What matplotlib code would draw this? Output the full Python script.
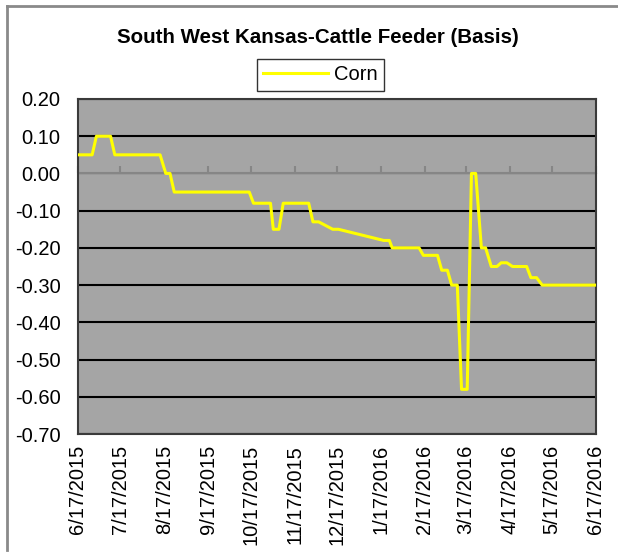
import matplotlib
matplotlib.use('Agg')
import matplotlib.pyplot as plt
from matplotlib.lines import Line2D
import pandas as pd

plt.rcParams['font.family'] = ['Liberation Sans', 'DejaVu Sans']
plt.rcParams['axes.unicode_minus'] = False

# breakpoints
dates = ['2015-06-17', '2015-06-27', '2015-06-30', '2015-07-10', '2015-07-13',
         '2015-08-14', '2015-08-18', '2015-08-21', '2015-08-24', '2015-10-16',
         '2015-10-19', '2015-10-31', '2015-11-02', '2015-11-06', '2015-11-09',
         '2015-11-27', '2015-11-30', '2015-12-04', '2015-12-14', '2015-12-18',
         '2016-01-19', '2016-01-23', '2016-01-25', '2016-02-13', '2016-02-16',
         '2016-02-26', '2016-02-29', '2016-03-04', '2016-03-07', '2016-03-11',
         '2016-03-14', '2016-03-18', '2016-03-21', '2016-03-24', '2016-03-28',
         '2016-03-31', '2016-04-04', '2016-04-08', '2016-04-11', '2016-04-15',
         '2016-04-19', '2016-04-29', '2016-05-02', '2016-05-06', '2016-05-10',
         '2016-06-17']
corn = [0.05, 0.05, 0.10, 0.10, 0.05, 0.05, 0.00, 0.00, -0.05, -0.05,
        -0.08, -0.08, -0.15, -0.15, -0.08, -0.08, -0.13, -0.13, -0.15, -0.15,
        -0.18, -0.18, -0.20, -0.20, -0.22, -0.22, -0.26, -0.26, -0.30, -0.30,
        -0.58, -0.58, 0.00, 0.00, -0.20, -0.20, -0.25, -0.25, -0.24, -0.24,
        -0.25, -0.25, -0.28, -0.28, -0.30, -0.30]
tick_labels = ['6/17/2015', '7/17/2015', '8/17/2015', '9/17/2015', '10/17/2015',
               '11/17/2015', '12/17/2015', '1/17/2016', '2/17/2016', '3/17/2016',
               '4/17/2016', '5/17/2016', '6/17/2016']
y_ticks = [0.20, 0.10, 0.00, -0.10, -0.20, -0.30, -0.40, -0.50, -0.60, -0.70]

x = pd.to_datetime(dates)
tick_dates = pd.to_datetime(tick_labels, format='%m/%d/%Y')

fig = plt.figure(figsize=(6.18, 5.55), dpi=100)
ax = fig.add_axes([78/618, 1-434/555, 518/618, 335/555])
ax.set_facecolor('#a5a5a5')

for v in y_ticks:
    if v != 0:
        ax.axhline(v, color='black', lw=1.5, zorder=1)
ax.axhline(0, color='#868686', lw=1.5, zorder=1)

ax.plot(x, corn, color='#ffff00', lw=2.2, zorder=3, label='Corn')

ax.set_xlim(tick_dates[0], tick_dates[-1])
ax.set_ylim(-0.70, 0.20)
ax.set_yticks(y_ticks)
ax.set_yticklabels(['%.2f' % v for v in y_ticks])
ax.set_xticks(tick_dates)
ax.set_xticklabels(tick_labels, rotation=90)
ax.tick_params(axis='both', length=0, labelsize=14.5)
ax.tick_params(axis='y', pad=12.5)
ax.tick_params(axis='x', pad=8)

for s in ax.spines.values():
    s.set_color('#3a3a3a')
    s.set_linewidth(1.5)

# small tick marks on the zero line
sec = ax.secondary_xaxis(0.7/0.9)
sec.set_xticks(tick_dates)
sec.set_xticklabels([])
sec.tick_params(axis='x', direction='out', length=5, width=1.5, color='#868686')
sec.spines['bottom'].set_visible(False)

fig.text(0.514, 0.932, 'South West Kansas-Cattle Feeder (Basis)', ha='center', va='center',
         fontsize=14.8, fontweight='bold')

leg = ax.legend(loc='center', bbox_to_anchor=(320.5/618, 1-75/555), bbox_transform=fig.transFigure,
                fontsize=14.5, frameon=True, fancybox=False, edgecolor='black',
                handlelength=3.2, borderpad=0.3, handletextpad=0.3)
leg.get_frame().set_linewidth(1.0)

# outer frame lines from the original screenshot
fig.add_artist(Line2D([7/618, 1], [1-5.5/555, 1-5.5/555], color='#8a8a8a', lw=2))
fig.add_artist(Line2D([7/618, 7/618], [1-550/555, 1-5.5/555], color='#8a8a8a', lw=2))

fig.savefig('out.png', dpi=100)
